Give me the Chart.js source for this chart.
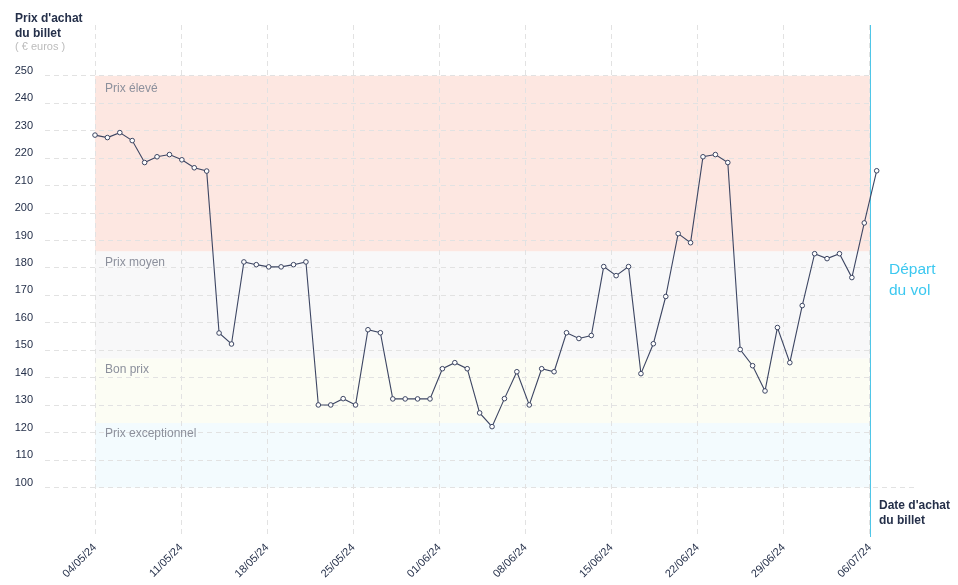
<!DOCTYPE html>
<html>
<head>
<meta charset="utf-8">
<script src="https://cdn.jsdelivr.net/npm/chart.js@4.4.1/dist/chart.umd.min.js"></script>
<style>
  html, body { margin: 0; padding: 0; background: #fff; }
  #wrap { width: 958px; height: 585px; position: relative; }
</style>
</head>
<body>
<div id="wrap"><canvas id="c" width="958" height="585"></canvas></div>
<script>
// prix relevés jour par jour (index 0 = 04/05/24)
const prices = [228.4, 227.5, 229.3, 226.4, 218.4, 220.5, 221.3, 219.4, 216.5, 215.3,
  156.3, 152.3, 182.2, 181.2, 180.4, 180.4, 181.2, 182.2,
  130.1, 130.1, 132.4, 130.1, 157.5, 156.4, 132.3, 132.3, 132.3, 132.3, 143.3, 145.5, 143.3,
  127.2, 122.2, 132.4, 142.2, 130.1, 143.3, 142.2, 156.4, 154.3, 155.4,
  180.5, 177.2, 180.5, 141.5, 152.4, 169.6, 192.5, 189.2, 220.5, 221.3, 218.4,
  150.3, 144.4, 135.2, 158.3, 145.5, 166.3, 185.2, 183.4, 185.2, 176.5, 196.4, 215.4];
const xTickLabels = ["04/05/24", "11/05/24", "18/05/24", "25/05/24", "01/06/24", "08/06/24", "15/06/24", "22/06/24", "29/06/24", "06/07/24"];
const xTickPos = [0, 6.94, 13.88, 20.82, 27.76, 34.69, 41.63, 48.57, 55.51, 62.45];
const yTicks = [100, 110, 120, 130, 140, 150, 160, 170, 180, 190, 200, 210, 220, 230, 240, 250];
const bandNames = ["Prix élevé", "Prix moyen", "Bon prix", "Prix exceptionnel"];
const bandHigh = [250, 186, 147, 123.5];
const bandLow = [186, 147, 123.5, 100];
const departPos = 62.45;

const bandColors = ["#fde7e1", "#f8f8f9", "#fcfdf4", "#f3fbfe"];
const navy = "#25304a";
const FONT = "'Liberation Sans', Arial, sans-serif";

const bandsPlugin = {
  id: "bands",
  beforeDraw(chart) {
    const { ctx, scales: { x, y } } = chart;
    const x0 = x.getPixelForValue(0), x1 = x.getPixelForValue(departPos);
    ctx.save();
    bandNames.forEach((name, i) => {
      const top = y.getPixelForValue(bandHigh[i]), bot = y.getPixelForValue(bandLow[i]);
      ctx.fillStyle = bandColors[i];
      ctx.fillRect(x0, top, x1 - x0, bot - top);
    });
    ctx.restore();
  },
  beforeDatasetsDraw(chart) {
    const { ctx, chartArea, scales: { x, y } } = chart;
    const xd = x.getPixelForValue(departPos);
    ctx.save();
    // pas de grille après le départ, sauf la ligne du bas
    ctx.fillStyle = "#fff";
    ctx.fillRect(xd + 0.5, chartArea.top, chartArea.right - xd + 5, y.getPixelForValue(100) - 1.5 - chartArea.top);
    ctx.font = "12px " + FONT;
    ctx.fillStyle = "#8c909c";
    ctx.textBaseline = "middle";
    bandNames.forEach((name, i) => {
      const top = y.getPixelForValue(bandHigh[i]);
      ctx.fillText(name, x.getPixelForValue(0) + 10, top + (i === 0 ? 13 : 11));
    });
    ctx.strokeStyle = "#4fc6e8";
    ctx.lineWidth = 1;
    ctx.beginPath();
    ctx.moveTo(Math.round(xd) + 0.5, chartArea.top);
    ctx.lineTo(Math.round(xd) + 0.5, chartArea.bottom);
    ctx.stroke();
    ctx.restore();
  },
  afterDraw(chart) {
    const { ctx } = chart;
    ctx.save();
    ctx.textBaseline = "middle";
    ctx.fillStyle = navy;
    ctx.font = "bold 12px " + FONT;
    ctx.fillText("Prix d'achat", 15, 19);
    ctx.fillText("du billet", 15, 34);
    ctx.fillText("Date d'achat", 879, 506);
    ctx.fillText("du billet", 879, 521);
    ctx.fillStyle = "#bcbcbc";
    ctx.font = "11px " + FONT;
    ctx.fillText("( € euros )", 15, 47);
    ctx.fillStyle = "#3cc8f0";
    ctx.font = "15.5px " + FONT;
    ctx.fillText("Départ", 889, 270);
    ctx.fillText("du vol", 889, 291);
    ctx.restore();
  }
};

new Chart(document.getElementById("c"), {
  type: "line",
  data: {
    datasets: [{
      data: prices.map((v, i) => ({ x: i, y: v })),
      borderColor: "#3d4663",
      borderWidth: 1.1,
      pointRadius: 2.3,
      pointBorderWidth: 1,
      pointBackgroundColor: "#fff",
      pointBorderColor: "#3d4663",
      tension: 0
    }]
  },
  options: {
    responsive: false,
    animation: false,
    layout: { padding: { top: 25, right: 40, left: 0, bottom: 0 } },
    plugins: { legend: { display: false }, tooltip: { enabled: false } },
    scales: {
      x: {
        type: "linear", min: -4.03, max: 66.33,
        afterBuildTicks: s => { s.ticks = xTickPos.map(v => ({ value: v })); },
        afterFit: s => { s.height = 48; },
        ticks: { minRotation: 45, maxRotation: 45, padding: 4, color: navy, font: { family: FONT, size: 11 },
          callback: (v, i) => xTickLabels[i] },
        grid: { color: "#e2e2e2", drawTicks: false },
        border: { display: false, dash: [5, 4] }
      },
      y: {
        min: 82, max: 268.5,
        afterBuildTicks: s => { s.ticks = yTicks.map(v => ({ value: v })); },
        afterFit: s => { s.width = 45; },
        ticks: { padding: 12, labelOffset: -5, color: navy, font: { family: FONT, size: 11 } },
        grid: { color: "#e2e2e2", drawTicks: false },
        border: { display: false, dash: [5, 4] }
      }
    }
  },
  plugins: [bandsPlugin]
});
</script>
</body>
</html>
